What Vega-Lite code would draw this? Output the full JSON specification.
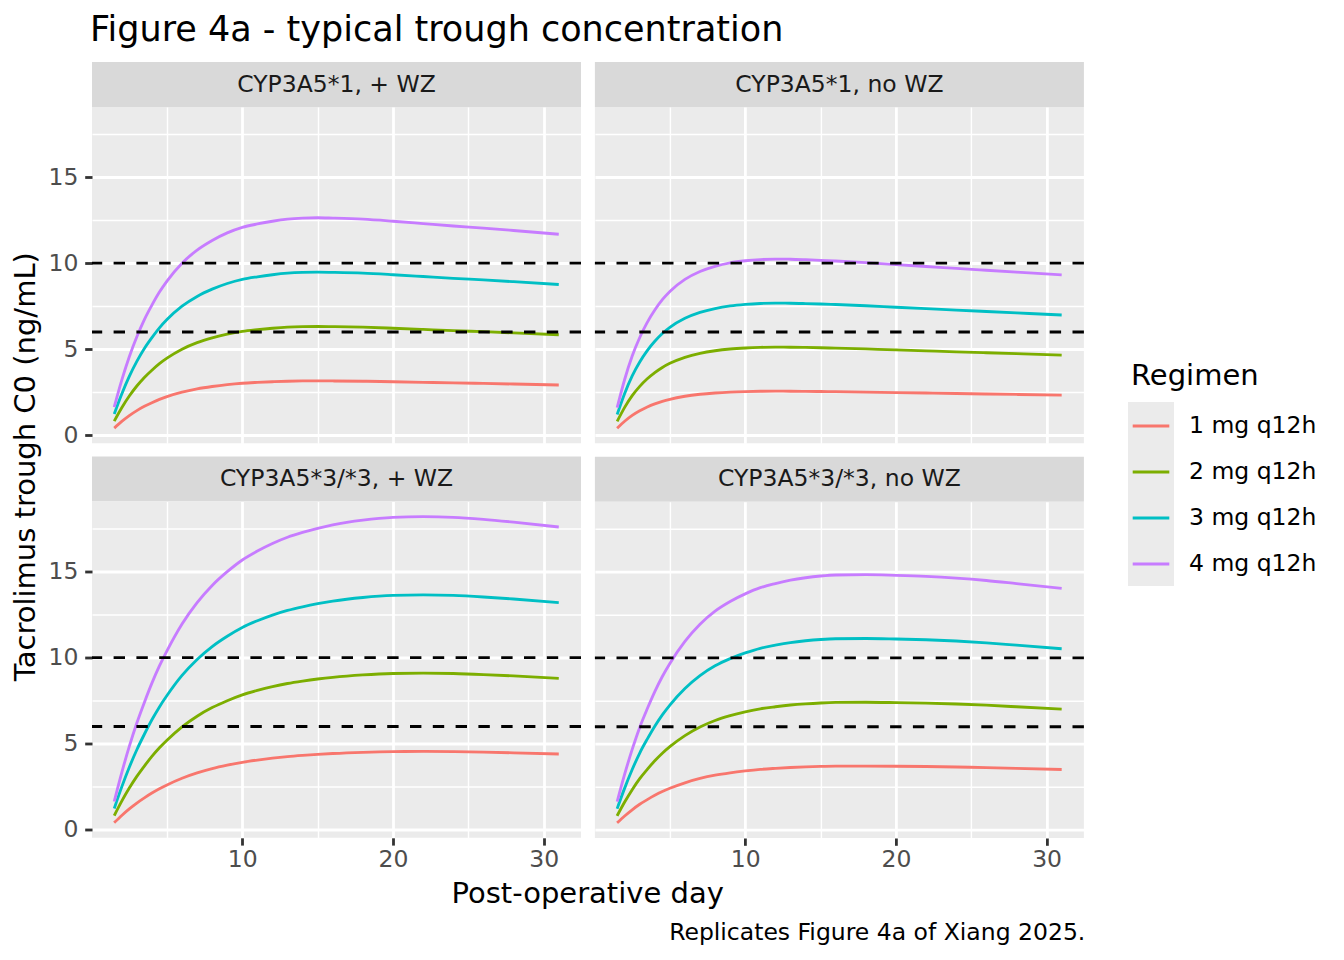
{
"$schema": "https://vega.github.io/schema/vega-lite/v6.json",
"background": "white",
"padding": {"left": 11, "top": 13, "right": 10, "bottom": 10},
"title": {"text": "Figure 4a - typical trough concentration", "anchor": "start", "fontSize": 35, "font": "DejaVu Sans", "fontWeight": "normal", "color": "black", "dx": 78, "offset": 14},
"config": {"font": "DejaVu Sans", "view": {"stroke": null}, "legend": {"padding": 0}, "title": {"font": "DejaVu Sans", "fontWeight": "normal", "color": "black"}},
"datasets": {
"refs": [{"yint": 6}, {"yint": 10}],
"tl": [
{"regimen":"1 mg q12h","day":1.5,"conc":0.41},{"regimen":"1 mg q12h","day":2,"conc":0.8},{"regimen":"1 mg q12h","day":2.5,"conc":1.14},{"regimen":"1 mg q12h","day":3,"conc":1.43},{"regimen":"1 mg q12h","day":3.5,"conc":1.68},{"regimen":"1 mg q12h","day":4,"conc":1.89},{"regimen":"1 mg q12h","day":4.5,"conc":2.08},{"regimen":"1 mg q12h","day":5,"conc":2.24},{"regimen":"1 mg q12h","day":6,"conc":2.5},{"regimen":"1 mg q12h","day":7,"conc":2.69},{"regimen":"1 mg q12h","day":8,"conc":2.83},{"regimen":"1 mg q12h","day":9,"conc":2.94},{"regimen":"1 mg q12h","day":10,"conc":3.02},{"regimen":"1 mg q12h","day":11,"conc":3.07},{"regimen":"1 mg q12h","day":12,"conc":3.11},{"regimen":"1 mg q12h","day":13,"conc":3.14},{"regimen":"1 mg q12h","day":14,"conc":3.155},{"regimen":"1 mg q12h","day":15,"conc":3.16},{"regimen":"1 mg q12h","day":16,"conc":3.155},{"regimen":"1 mg q12h","day":18,"conc":3.14},{"regimen":"1 mg q12h","day":20,"conc":3.11},{"regimen":"1 mg q12h","day":22,"conc":3.075},{"regimen":"1 mg q12h","day":24,"conc":3.04},{"regimen":"1 mg q12h","day":26,"conc":3.01},{"regimen":"1 mg q12h","day":28,"conc":2.975},{"regimen":"1 mg q12h","day":31,"conc":2.92},
{"regimen":"2 mg q12h","day":1.5,"conc":0.82},{"regimen":"2 mg q12h","day":2,"conc":1.6},{"regimen":"2 mg q12h","day":2.5,"conc":2.28},{"regimen":"2 mg q12h","day":3,"conc":2.86},{"regimen":"2 mg q12h","day":3.5,"conc":3.36},{"regimen":"2 mg q12h","day":4,"conc":3.78},{"regimen":"2 mg q12h","day":4.5,"conc":4.16},{"regimen":"2 mg q12h","day":5,"conc":4.48},{"regimen":"2 mg q12h","day":6,"conc":5.0},{"regimen":"2 mg q12h","day":7,"conc":5.38},{"regimen":"2 mg q12h","day":8,"conc":5.66},{"regimen":"2 mg q12h","day":9,"conc":5.88},{"regimen":"2 mg q12h","day":10,"conc":6.04},{"regimen":"2 mg q12h","day":11,"conc":6.14},{"regimen":"2 mg q12h","day":12,"conc":6.22},{"regimen":"2 mg q12h","day":13,"conc":6.28},{"regimen":"2 mg q12h","day":14,"conc":6.31},{"regimen":"2 mg q12h","day":15,"conc":6.32},{"regimen":"2 mg q12h","day":16,"conc":6.31},{"regimen":"2 mg q12h","day":18,"conc":6.28},{"regimen":"2 mg q12h","day":20,"conc":6.22},{"regimen":"2 mg q12h","day":22,"conc":6.15},{"regimen":"2 mg q12h","day":24,"conc":6.08},{"regimen":"2 mg q12h","day":26,"conc":6.02},{"regimen":"2 mg q12h","day":28,"conc":5.95},{"regimen":"2 mg q12h","day":31,"conc":5.84},
{"regimen":"3 mg q12h","day":1.5,"conc":1.23},{"regimen":"3 mg q12h","day":2,"conc":2.4},{"regimen":"3 mg q12h","day":2.5,"conc":3.42},{"regimen":"3 mg q12h","day":3,"conc":4.29},{"regimen":"3 mg q12h","day":3.5,"conc":5.04},{"regimen":"3 mg q12h","day":4,"conc":5.67},{"regimen":"3 mg q12h","day":4.5,"conc":6.24},{"regimen":"3 mg q12h","day":5,"conc":6.72},{"regimen":"3 mg q12h","day":6,"conc":7.5},{"regimen":"3 mg q12h","day":7,"conc":8.07},{"regimen":"3 mg q12h","day":8,"conc":8.49},{"regimen":"3 mg q12h","day":9,"conc":8.82},{"regimen":"3 mg q12h","day":10,"conc":9.06},{"regimen":"3 mg q12h","day":11,"conc":9.21},{"regimen":"3 mg q12h","day":12,"conc":9.33},{"regimen":"3 mg q12h","day":13,"conc":9.42},{"regimen":"3 mg q12h","day":14,"conc":9.465},{"regimen":"3 mg q12h","day":15,"conc":9.48},{"regimen":"3 mg q12h","day":16,"conc":9.465},{"regimen":"3 mg q12h","day":18,"conc":9.42},{"regimen":"3 mg q12h","day":20,"conc":9.33},{"regimen":"3 mg q12h","day":22,"conc":9.225},{"regimen":"3 mg q12h","day":24,"conc":9.12},{"regimen":"3 mg q12h","day":26,"conc":9.03},{"regimen":"3 mg q12h","day":28,"conc":8.925},{"regimen":"3 mg q12h","day":31,"conc":8.76},
{"regimen":"4 mg q12h","day":1.5,"conc":1.64},{"regimen":"4 mg q12h","day":2,"conc":3.2},{"regimen":"4 mg q12h","day":2.5,"conc":4.56},{"regimen":"4 mg q12h","day":3,"conc":5.72},{"regimen":"4 mg q12h","day":3.5,"conc":6.72},{"regimen":"4 mg q12h","day":4,"conc":7.56},{"regimen":"4 mg q12h","day":4.5,"conc":8.32},{"regimen":"4 mg q12h","day":5,"conc":8.96},{"regimen":"4 mg q12h","day":6,"conc":10.0},{"regimen":"4 mg q12h","day":7,"conc":10.76},{"regimen":"4 mg q12h","day":8,"conc":11.32},{"regimen":"4 mg q12h","day":9,"conc":11.76},{"regimen":"4 mg q12h","day":10,"conc":12.08},{"regimen":"4 mg q12h","day":11,"conc":12.28},{"regimen":"4 mg q12h","day":12,"conc":12.44},{"regimen":"4 mg q12h","day":13,"conc":12.56},{"regimen":"4 mg q12h","day":14,"conc":12.62},{"regimen":"4 mg q12h","day":15,"conc":12.64},{"regimen":"4 mg q12h","day":16,"conc":12.62},{"regimen":"4 mg q12h","day":18,"conc":12.56},{"regimen":"4 mg q12h","day":20,"conc":12.44},{"regimen":"4 mg q12h","day":22,"conc":12.3},{"regimen":"4 mg q12h","day":24,"conc":12.16},{"regimen":"4 mg q12h","day":26,"conc":12.04},{"regimen":"4 mg q12h","day":28,"conc":11.9},{"regimen":"4 mg q12h","day":31,"conc":11.68}
],
"tr": [
{"regimen":"1 mg q12h","day":1.5,"conc":0.4},{"regimen":"1 mg q12h","day":2,"conc":0.81},{"regimen":"1 mg q12h","day":2.5,"conc":1.15},{"regimen":"1 mg q12h","day":3,"conc":1.42},{"regimen":"1 mg q12h","day":3.5,"conc":1.64},{"regimen":"1 mg q12h","day":4,"conc":1.82},{"regimen":"1 mg q12h","day":4.5,"conc":1.97},{"regimen":"1 mg q12h","day":5,"conc":2.09},{"regimen":"1 mg q12h","day":6,"conc":2.265},{"regimen":"1 mg q12h","day":7,"conc":2.38},{"regimen":"1 mg q12h","day":8,"conc":2.455},{"regimen":"1 mg q12h","day":9,"conc":2.505},{"regimen":"1 mg q12h","day":10,"conc":2.535},{"regimen":"1 mg q12h","day":11,"conc":2.553},{"regimen":"1 mg q12h","day":12,"conc":2.56},{"regimen":"1 mg q12h","day":13,"conc":2.558},{"regimen":"1 mg q12h","day":14,"conc":2.551},{"regimen":"1 mg q12h","day":15,"conc":2.542},{"regimen":"1 mg q12h","day":16,"conc":2.532},{"regimen":"1 mg q12h","day":18,"conc":2.508},{"regimen":"1 mg q12h","day":20,"conc":2.48},{"regimen":"1 mg q12h","day":22,"conc":2.452},{"regimen":"1 mg q12h","day":24,"conc":2.424},{"regimen":"1 mg q12h","day":26,"conc":2.397},{"regimen":"1 mg q12h","day":28,"conc":2.37},{"regimen":"1 mg q12h","day":31,"conc":2.33},
{"regimen":"2 mg q12h","day":1.5,"conc":0.8},{"regimen":"2 mg q12h","day":2,"conc":1.62},{"regimen":"2 mg q12h","day":2.5,"conc":2.3},{"regimen":"2 mg q12h","day":3,"conc":2.84},{"regimen":"2 mg q12h","day":3.5,"conc":3.28},{"regimen":"2 mg q12h","day":4,"conc":3.64},{"regimen":"2 mg q12h","day":4.5,"conc":3.94},{"regimen":"2 mg q12h","day":5,"conc":4.18},{"regimen":"2 mg q12h","day":6,"conc":4.53},{"regimen":"2 mg q12h","day":7,"conc":4.76},{"regimen":"2 mg q12h","day":8,"conc":4.91},{"regimen":"2 mg q12h","day":9,"conc":5.01},{"regimen":"2 mg q12h","day":10,"conc":5.07},{"regimen":"2 mg q12h","day":11,"conc":5.106},{"regimen":"2 mg q12h","day":12,"conc":5.12},{"regimen":"2 mg q12h","day":13,"conc":5.116},{"regimen":"2 mg q12h","day":14,"conc":5.102},{"regimen":"2 mg q12h","day":15,"conc":5.084},{"regimen":"2 mg q12h","day":16,"conc":5.064},{"regimen":"2 mg q12h","day":18,"conc":5.016},{"regimen":"2 mg q12h","day":20,"conc":4.96},{"regimen":"2 mg q12h","day":22,"conc":4.904},{"regimen":"2 mg q12h","day":24,"conc":4.848},{"regimen":"2 mg q12h","day":26,"conc":4.794},{"regimen":"2 mg q12h","day":28,"conc":4.74},{"regimen":"2 mg q12h","day":31,"conc":4.66},
{"regimen":"3 mg q12h","day":1.5,"conc":1.2},{"regimen":"3 mg q12h","day":2,"conc":2.43},{"regimen":"3 mg q12h","day":2.5,"conc":3.45},{"regimen":"3 mg q12h","day":3,"conc":4.26},{"regimen":"3 mg q12h","day":3.5,"conc":4.92},{"regimen":"3 mg q12h","day":4,"conc":5.46},{"regimen":"3 mg q12h","day":4.5,"conc":5.91},{"regimen":"3 mg q12h","day":5,"conc":6.27},{"regimen":"3 mg q12h","day":6,"conc":6.795},{"regimen":"3 mg q12h","day":7,"conc":7.14},{"regimen":"3 mg q12h","day":8,"conc":7.365},{"regimen":"3 mg q12h","day":9,"conc":7.515},{"regimen":"3 mg q12h","day":10,"conc":7.605},{"regimen":"3 mg q12h","day":11,"conc":7.659},{"regimen":"3 mg q12h","day":12,"conc":7.68},{"regimen":"3 mg q12h","day":13,"conc":7.674},{"regimen":"3 mg q12h","day":14,"conc":7.653},{"regimen":"3 mg q12h","day":15,"conc":7.626},{"regimen":"3 mg q12h","day":16,"conc":7.596},{"regimen":"3 mg q12h","day":18,"conc":7.524},{"regimen":"3 mg q12h","day":20,"conc":7.44},{"regimen":"3 mg q12h","day":22,"conc":7.356},{"regimen":"3 mg q12h","day":24,"conc":7.272},{"regimen":"3 mg q12h","day":26,"conc":7.191},{"regimen":"3 mg q12h","day":28,"conc":7.11},{"regimen":"3 mg q12h","day":31,"conc":6.99},
{"regimen":"4 mg q12h","day":1.5,"conc":1.6},{"regimen":"4 mg q12h","day":2,"conc":3.24},{"regimen":"4 mg q12h","day":2.5,"conc":4.6},{"regimen":"4 mg q12h","day":3,"conc":5.68},{"regimen":"4 mg q12h","day":3.5,"conc":6.56},{"regimen":"4 mg q12h","day":4,"conc":7.28},{"regimen":"4 mg q12h","day":4.5,"conc":7.88},{"regimen":"4 mg q12h","day":5,"conc":8.36},{"regimen":"4 mg q12h","day":6,"conc":9.06},{"regimen":"4 mg q12h","day":7,"conc":9.52},{"regimen":"4 mg q12h","day":8,"conc":9.82},{"regimen":"4 mg q12h","day":9,"conc":10.02},{"regimen":"4 mg q12h","day":10,"conc":10.14},{"regimen":"4 mg q12h","day":11,"conc":10.212},{"regimen":"4 mg q12h","day":12,"conc":10.24},{"regimen":"4 mg q12h","day":13,"conc":10.232},{"regimen":"4 mg q12h","day":14,"conc":10.204},{"regimen":"4 mg q12h","day":15,"conc":10.168},{"regimen":"4 mg q12h","day":16,"conc":10.128},{"regimen":"4 mg q12h","day":18,"conc":10.032},{"regimen":"4 mg q12h","day":20,"conc":9.92},{"regimen":"4 mg q12h","day":22,"conc":9.808},{"regimen":"4 mg q12h","day":24,"conc":9.696},{"regimen":"4 mg q12h","day":26,"conc":9.588},{"regimen":"4 mg q12h","day":28,"conc":9.48},{"regimen":"4 mg q12h","day":31,"conc":9.32}
],
"bl": [
{"regimen":"1 mg q12h","day":1.5,"conc":0.41},{"regimen":"1 mg q12h","day":2,"conc":0.83},{"regimen":"1 mg q12h","day":2.5,"conc":1.21},{"regimen":"1 mg q12h","day":3,"conc":1.55},{"regimen":"1 mg q12h","day":3.5,"conc":1.85},{"regimen":"1 mg q12h","day":4,"conc":2.13},{"regimen":"1 mg q12h","day":4.5,"conc":2.38},{"regimen":"1 mg q12h","day":5,"conc":2.6},{"regimen":"1 mg q12h","day":6,"conc":2.99},{"regimen":"1 mg q12h","day":7,"conc":3.3},{"regimen":"1 mg q12h","day":8,"conc":3.55},{"regimen":"1 mg q12h","day":9,"conc":3.75},{"regimen":"1 mg q12h","day":10,"conc":3.92},{"regimen":"1 mg q12h","day":11,"conc":4.05},{"regimen":"1 mg q12h","day":12,"conc":4.16},{"regimen":"1 mg q12h","day":13,"conc":4.25},{"regimen":"1 mg q12h","day":14,"conc":4.32},{"regimen":"1 mg q12h","day":15,"conc":4.38},{"regimen":"1 mg q12h","day":16,"conc":4.43},{"regimen":"1 mg q12h","day":18,"conc":4.5},{"regimen":"1 mg q12h","day":20,"conc":4.54},{"regimen":"1 mg q12h","day":22,"conc":4.55},{"regimen":"1 mg q12h","day":24,"conc":4.54},{"regimen":"1 mg q12h","day":26,"conc":4.51},{"regimen":"1 mg q12h","day":28,"conc":4.47},{"regimen":"1 mg q12h","day":31,"conc":4.4},
{"regimen":"2 mg q12h","day":1.5,"conc":0.82},{"regimen":"2 mg q12h","day":2,"conc":1.66},{"regimen":"2 mg q12h","day":2.5,"conc":2.42},{"regimen":"2 mg q12h","day":3,"conc":3.1},{"regimen":"2 mg q12h","day":3.5,"conc":3.7},{"regimen":"2 mg q12h","day":4,"conc":4.26},{"regimen":"2 mg q12h","day":4.5,"conc":4.76},{"regimen":"2 mg q12h","day":5,"conc":5.2},{"regimen":"2 mg q12h","day":6,"conc":5.98},{"regimen":"2 mg q12h","day":7,"conc":6.6},{"regimen":"2 mg q12h","day":8,"conc":7.1},{"regimen":"2 mg q12h","day":9,"conc":7.5},{"regimen":"2 mg q12h","day":10,"conc":7.84},{"regimen":"2 mg q12h","day":11,"conc":8.1},{"regimen":"2 mg q12h","day":12,"conc":8.32},{"regimen":"2 mg q12h","day":13,"conc":8.5},{"regimen":"2 mg q12h","day":14,"conc":8.64},{"regimen":"2 mg q12h","day":15,"conc":8.76},{"regimen":"2 mg q12h","day":16,"conc":8.86},{"regimen":"2 mg q12h","day":18,"conc":9.0},{"regimen":"2 mg q12h","day":20,"conc":9.08},{"regimen":"2 mg q12h","day":22,"conc":9.1},{"regimen":"2 mg q12h","day":24,"conc":9.08},{"regimen":"2 mg q12h","day":26,"conc":9.02},{"regimen":"2 mg q12h","day":28,"conc":8.94},{"regimen":"2 mg q12h","day":31,"conc":8.8},
{"regimen":"3 mg q12h","day":1.5,"conc":1.23},{"regimen":"3 mg q12h","day":2,"conc":2.49},{"regimen":"3 mg q12h","day":2.5,"conc":3.63},{"regimen":"3 mg q12h","day":3,"conc":4.65},{"regimen":"3 mg q12h","day":3.5,"conc":5.55},{"regimen":"3 mg q12h","day":4,"conc":6.39},{"regimen":"3 mg q12h","day":4.5,"conc":7.14},{"regimen":"3 mg q12h","day":5,"conc":7.8},{"regimen":"3 mg q12h","day":6,"conc":8.97},{"regimen":"3 mg q12h","day":7,"conc":9.9},{"regimen":"3 mg q12h","day":8,"conc":10.65},{"regimen":"3 mg q12h","day":9,"conc":11.25},{"regimen":"3 mg q12h","day":10,"conc":11.76},{"regimen":"3 mg q12h","day":11,"conc":12.15},{"regimen":"3 mg q12h","day":12,"conc":12.48},{"regimen":"3 mg q12h","day":13,"conc":12.75},{"regimen":"3 mg q12h","day":14,"conc":12.96},{"regimen":"3 mg q12h","day":15,"conc":13.14},{"regimen":"3 mg q12h","day":16,"conc":13.29},{"regimen":"3 mg q12h","day":18,"conc":13.5},{"regimen":"3 mg q12h","day":20,"conc":13.62},{"regimen":"3 mg q12h","day":22,"conc":13.65},{"regimen":"3 mg q12h","day":24,"conc":13.62},{"regimen":"3 mg q12h","day":26,"conc":13.53},{"regimen":"3 mg q12h","day":28,"conc":13.41},{"regimen":"3 mg q12h","day":31,"conc":13.2},
{"regimen":"4 mg q12h","day":1.5,"conc":1.64},{"regimen":"4 mg q12h","day":2,"conc":3.32},{"regimen":"4 mg q12h","day":2.5,"conc":4.84},{"regimen":"4 mg q12h","day":3,"conc":6.2},{"regimen":"4 mg q12h","day":3.5,"conc":7.4},{"regimen":"4 mg q12h","day":4,"conc":8.52},{"regimen":"4 mg q12h","day":4.5,"conc":9.52},{"regimen":"4 mg q12h","day":5,"conc":10.4},{"regimen":"4 mg q12h","day":6,"conc":11.96},{"regimen":"4 mg q12h","day":7,"conc":13.2},{"regimen":"4 mg q12h","day":8,"conc":14.2},{"regimen":"4 mg q12h","day":9,"conc":15.0},{"regimen":"4 mg q12h","day":10,"conc":15.68},{"regimen":"4 mg q12h","day":11,"conc":16.2},{"regimen":"4 mg q12h","day":12,"conc":16.64},{"regimen":"4 mg q12h","day":13,"conc":17.0},{"regimen":"4 mg q12h","day":14,"conc":17.28},{"regimen":"4 mg q12h","day":15,"conc":17.52},{"regimen":"4 mg q12h","day":16,"conc":17.72},{"regimen":"4 mg q12h","day":18,"conc":18.0},{"regimen":"4 mg q12h","day":20,"conc":18.16},{"regimen":"4 mg q12h","day":22,"conc":18.2},{"regimen":"4 mg q12h","day":24,"conc":18.16},{"regimen":"4 mg q12h","day":26,"conc":18.04},{"regimen":"4 mg q12h","day":28,"conc":17.88},{"regimen":"4 mg q12h","day":31,"conc":17.6}
],
"br": [
{"regimen":"1 mg q12h","day":1.5,"conc":0.41},{"regimen":"1 mg q12h","day":2,"conc":0.81},{"regimen":"1 mg q12h","day":2.5,"conc":1.17},{"regimen":"1 mg q12h","day":3,"conc":1.49},{"regimen":"1 mg q12h","day":3.5,"conc":1.76},{"regimen":"1 mg q12h","day":4,"conc":2.01},{"regimen":"1 mg q12h","day":4.5,"conc":2.23},{"regimen":"1 mg q12h","day":5,"conc":2.42},{"regimen":"1 mg q12h","day":6,"conc":2.74},{"regimen":"1 mg q12h","day":7,"conc":2.99},{"regimen":"1 mg q12h","day":8,"conc":3.18},{"regimen":"1 mg q12h","day":9,"conc":3.32},{"regimen":"1 mg q12h","day":10,"conc":3.43},{"regimen":"1 mg q12h","day":11,"conc":3.52},{"regimen":"1 mg q12h","day":12,"conc":3.58},{"regimen":"1 mg q12h","day":13,"conc":3.63},{"regimen":"1 mg q12h","day":14,"conc":3.665},{"regimen":"1 mg q12h","day":15,"conc":3.69},{"regimen":"1 mg q12h","day":16,"conc":3.705},{"regimen":"1 mg q12h","day":18,"conc":3.71},{"regimen":"1 mg q12h","day":20,"conc":3.7},{"regimen":"1 mg q12h","day":22,"conc":3.685},{"regimen":"1 mg q12h","day":24,"conc":3.66},{"regimen":"1 mg q12h","day":26,"conc":3.625},{"regimen":"1 mg q12h","day":28,"conc":3.58},{"regimen":"1 mg q12h","day":31,"conc":3.51},
{"regimen":"2 mg q12h","day":1.5,"conc":0.82},{"regimen":"2 mg q12h","day":2,"conc":1.62},{"regimen":"2 mg q12h","day":2.5,"conc":2.34},{"regimen":"2 mg q12h","day":3,"conc":2.98},{"regimen":"2 mg q12h","day":3.5,"conc":3.52},{"regimen":"2 mg q12h","day":4,"conc":4.02},{"regimen":"2 mg q12h","day":4.5,"conc":4.46},{"regimen":"2 mg q12h","day":5,"conc":4.84},{"regimen":"2 mg q12h","day":6,"conc":5.48},{"regimen":"2 mg q12h","day":7,"conc":5.98},{"regimen":"2 mg q12h","day":8,"conc":6.36},{"regimen":"2 mg q12h","day":9,"conc":6.64},{"regimen":"2 mg q12h","day":10,"conc":6.86},{"regimen":"2 mg q12h","day":11,"conc":7.04},{"regimen":"2 mg q12h","day":12,"conc":7.16},{"regimen":"2 mg q12h","day":13,"conc":7.26},{"regimen":"2 mg q12h","day":14,"conc":7.33},{"regimen":"2 mg q12h","day":15,"conc":7.38},{"regimen":"2 mg q12h","day":16,"conc":7.41},{"regimen":"2 mg q12h","day":18,"conc":7.42},{"regimen":"2 mg q12h","day":20,"conc":7.4},{"regimen":"2 mg q12h","day":22,"conc":7.37},{"regimen":"2 mg q12h","day":24,"conc":7.32},{"regimen":"2 mg q12h","day":26,"conc":7.25},{"regimen":"2 mg q12h","day":28,"conc":7.16},{"regimen":"2 mg q12h","day":31,"conc":7.02},
{"regimen":"3 mg q12h","day":1.5,"conc":1.23},{"regimen":"3 mg q12h","day":2,"conc":2.43},{"regimen":"3 mg q12h","day":2.5,"conc":3.51},{"regimen":"3 mg q12h","day":3,"conc":4.47},{"regimen":"3 mg q12h","day":3.5,"conc":5.28},{"regimen":"3 mg q12h","day":4,"conc":6.03},{"regimen":"3 mg q12h","day":4.5,"conc":6.69},{"regimen":"3 mg q12h","day":5,"conc":7.26},{"regimen":"3 mg q12h","day":6,"conc":8.22},{"regimen":"3 mg q12h","day":7,"conc":8.97},{"regimen":"3 mg q12h","day":8,"conc":9.54},{"regimen":"3 mg q12h","day":9,"conc":9.96},{"regimen":"3 mg q12h","day":10,"conc":10.29},{"regimen":"3 mg q12h","day":11,"conc":10.56},{"regimen":"3 mg q12h","day":12,"conc":10.74},{"regimen":"3 mg q12h","day":13,"conc":10.89},{"regimen":"3 mg q12h","day":14,"conc":10.995},{"regimen":"3 mg q12h","day":15,"conc":11.07},{"regimen":"3 mg q12h","day":16,"conc":11.115},{"regimen":"3 mg q12h","day":18,"conc":11.13},{"regimen":"3 mg q12h","day":20,"conc":11.1},{"regimen":"3 mg q12h","day":22,"conc":11.055},{"regimen":"3 mg q12h","day":24,"conc":10.98},{"regimen":"3 mg q12h","day":26,"conc":10.875},{"regimen":"3 mg q12h","day":28,"conc":10.74},{"regimen":"3 mg q12h","day":31,"conc":10.53},
{"regimen":"4 mg q12h","day":1.5,"conc":1.64},{"regimen":"4 mg q12h","day":2,"conc":3.24},{"regimen":"4 mg q12h","day":2.5,"conc":4.68},{"regimen":"4 mg q12h","day":3,"conc":5.96},{"regimen":"4 mg q12h","day":3.5,"conc":7.04},{"regimen":"4 mg q12h","day":4,"conc":8.04},{"regimen":"4 mg q12h","day":4.5,"conc":8.92},{"regimen":"4 mg q12h","day":5,"conc":9.68},{"regimen":"4 mg q12h","day":6,"conc":10.96},{"regimen":"4 mg q12h","day":7,"conc":11.96},{"regimen":"4 mg q12h","day":8,"conc":12.72},{"regimen":"4 mg q12h","day":9,"conc":13.28},{"regimen":"4 mg q12h","day":10,"conc":13.72},{"regimen":"4 mg q12h","day":11,"conc":14.08},{"regimen":"4 mg q12h","day":12,"conc":14.32},{"regimen":"4 mg q12h","day":13,"conc":14.52},{"regimen":"4 mg q12h","day":14,"conc":14.66},{"regimen":"4 mg q12h","day":15,"conc":14.76},{"regimen":"4 mg q12h","day":16,"conc":14.82},{"regimen":"4 mg q12h","day":18,"conc":14.84},{"regimen":"4 mg q12h","day":20,"conc":14.8},{"regimen":"4 mg q12h","day":22,"conc":14.74},{"regimen":"4 mg q12h","day":24,"conc":14.64},{"regimen":"4 mg q12h","day":26,"conc":14.5},{"regimen":"4 mg q12h","day":28,"conc":14.32},{"regimen":"4 mg q12h","day":31,"conc":14.04}
]
},
"resolve": {"scale": {"color": "shared", "fill": "shared"}, "legend": {"color": "shared", "fill": "shared"}},
"vconcat": [{
 "title": {"text": "Replicates Figure 4a of Xiang 2025.", "orient": "bottom", "anchor": "end", "fontSize": 23.5, "offset": 12},
 "resolve": {"scale": {"color": "shared", "fill": "shared"}, "legend": {"color": "shared", "fill": "shared"}},
 "vconcat": [{
  "title": {"text": "Post-operative day", "orient": "bottom", "anchor": "middle", "fontSize": 29, "offset": 9, "dx": 39},
  "resolve": {"scale": {"color": "shared", "fill": "shared"}, "legend": {"color": "shared", "fill": "shared"}},
  "vconcat": [{
   "title": {"text": "Tacrolimus trough C0 (ng/mL)", "orient": "left", "anchor": "middle", "fontSize": 29, "offset": 7},
   "resolve": {"scale": {"color": "shared", "fill": "shared"}, "legend": {"color": "shared", "fill": "shared"}},
   "spacing": 9.9,
   "hconcat": [
    {"spacing": 9.5,
     "resolve": {"scale": {"color": "shared", "fill": "shared"}, "legend": {"color": "shared", "fill": "shared"}},
     "vconcat": [
      {"spacing": 0, "bounds": "flush",
       "resolve": {"scale": {"color": "shared", "fill": "shared"}, "legend": {"color": "shared", "fill": "shared"}},
       "vconcat": [
        {"width": 489, "height": 45, "view": {"fill": "#D9D9D9", "stroke": null}, "data": {"values": [{"panel": "CYP3A5*1, + WZ"}]}, "mark": {"type": "text", "fontSize": 23.5, "color": "#1A1A1A", "font": "DejaVu Sans", "baseline": "middle"}, "encoding": {"text": {"field": "panel"}}},
        {"width": 489, "height": 336.3, "view": {"fill": "#EBEBEB", "stroke": null},
         "layer": [
          {"data": {"name": "tl"}, "mark": {"type": "line", "strokeWidth": 2.85, "interpolate": "monotone"},
           "encoding": {
            "x": {"field": "day", "type": "quantitative", "scale": {"domain": [0.025, 32.475], "nice": false, "zero": false}, "axis": {"values": [5,10,15,20,25,30], "labels": false, "ticks": false, "domain": false, "title": null, "grid": true, "gridColor": "white", "gridWidth": {"condition": {"test": "datum.value % 10 !== 0", "value": 1.4}, "value": 2.8}}},
            "y": {"field": "conc", "type": "quantitative", "scale": {"domain": [-0.47, 19.08], "nice": false, "zero": false}, "axis": {"values": [0,2.5,5,7.5,10,12.5,15,17.5], "labelExpr": "datum.value % 5 === 0 ? datum.label : ''", "labelFontSize": 23.5, "labelColor": "#4D4D4D", "labelFont": "DejaVu Sans", "labelPadding": 6.8, "labelOverlap": false, "labelFlush": false, "ticks": true, "tickSize": 7.3, "tickWidth": 2.8, "tickColor": "#333333", "tickOpacity": {"condition": {"test": "datum.value % 5 !== 0", "value": 0}, "value": 1}, "domain": false, "title": null, "grid": true, "gridColor": "white", "gridWidth": {"condition": {"test": "datum.value % 5 !== 0", "value": 1.4}, "value": 2.8}}},
            "color": {"field": "regimen", "type": "nominal", "scale": {"domain": ["1 mg q12h","2 mg q12h","3 mg q12h","4 mg q12h"], "range": ["#F8766D","#7CAE00","#00BFC4","#C77CFF"]}, "legend": {"title": "Regimen", "orient": "none", "legendX": 1039, "legendY": 300, "titleFontSize": 29, "titleFont": "DejaVu Sans", "titleFontWeight": "normal", "titleColor": "black", "titlePadding": 15, "labelFontSize": 23.5, "labelFont": "DejaVu Sans", "labelColor": "black", "labelOffset": 18, "symbolType": "stroke", "symbolSize": 1340, "symbolStrokeWidth": 2.85, "rowPadding": 14, "zindex": 2}}
           }},
          {"data": {"name": "tl"}, "mark": {"type": "square", "opacity": 0, "size": 4},
           "encoding": {
            "x": {"field": "day", "type": "quantitative"},
            "y": {"field": "conc", "type": "quantitative"},
            "fill": {"field": "regimen", "type": "nominal", "scale": {"range": ["#EBEBEB","#EBEBEB","#EBEBEB","#EBEBEB"]}, "legend": {"title": null, "orient": "none", "legendX": 1036, "legendY": 340, "labelExpr": "''", "labelFontSize": 23.5, "symbolType": "square", "symbolSize": 2116, "symbolStrokeWidth": 0, "symbolOpacity": 1, "rowPadding": 0, "zindex": 0}}
           }},
          {"data": {"name": "refs"}, "mark": {"type": "rule", "strokeDash": [11.4, 11.4], "strokeWidth": 2.85, "color": "black"}, "encoding": {"y": {"field": "yint", "type": "quantitative"}}}
         ]}
       ]},
      {"spacing": 0, "bounds": "flush",
       "resolve": {"scale": {"color": "shared", "fill": "shared"}, "legend": {"color": "shared", "fill": "shared"}},
       "vconcat": [
        {"width": 489, "height": 45, "view": {"fill": "#D9D9D9", "stroke": null}, "data": {"values": [{"panel": "CYP3A5*3/*3, + WZ"}]}, "mark": {"type": "text", "fontSize": 23.5, "color": "#1A1A1A", "font": "DejaVu Sans", "baseline": "middle"}, "encoding": {"text": {"field": "panel"}}},
        {"width": 489, "height": 336.3, "view": {"fill": "#EBEBEB", "stroke": null},
         "layer": [
          {"data": {"name": "bl"}, "mark": {"type": "line", "strokeWidth": 2.85, "interpolate": "monotone"},
           "encoding": {
            "x": {"field": "day", "type": "quantitative", "scale": {"domain": [0.025, 32.475], "nice": false, "zero": false}, "axis": {"values": [5,10,15,20,25,30], "labelExpr": "datum.value % 10 === 0 ? datum.label : ''", "labelFontSize": 23.5, "labelColor": "#4D4D4D", "labelFont": "DejaVu Sans", "labelPadding": 2.5, "labelOverlap": false, "labelFlush": false, "ticks": true, "tickSize": 7.3, "tickWidth": 2.8, "tickColor": "#333333", "tickOpacity": {"condition": {"test": "datum.value % 10 !== 0", "value": 0}, "value": 1}, "domain": false, "title": null, "grid": true, "gridColor": "white", "gridWidth": {"condition": {"test": "datum.value % 10 !== 0", "value": 1.4}, "value": 2.8}}},
            "y": {"field": "conc", "type": "quantitative", "scale": {"domain": [-0.47, 19.08], "nice": false, "zero": false}, "axis": {"values": [0,2.5,5,7.5,10,12.5,15,17.5], "labelExpr": "datum.value % 5 === 0 ? datum.label : ''", "labelFontSize": 23.5, "labelColor": "#4D4D4D", "labelFont": "DejaVu Sans", "labelPadding": 6.8, "labelOverlap": false, "labelFlush": false, "ticks": true, "tickSize": 7.3, "tickWidth": 2.8, "tickColor": "#333333", "tickOpacity": {"condition": {"test": "datum.value % 5 !== 0", "value": 0}, "value": 1}, "domain": false, "title": null, "grid": true, "gridColor": "white", "gridWidth": {"condition": {"test": "datum.value % 5 !== 0", "value": 1.4}, "value": 2.8}}},
            "color": {"field": "regimen", "type": "nominal", "scale": {"domain": ["1 mg q12h","2 mg q12h","3 mg q12h","4 mg q12h"], "range": ["#F8766D","#7CAE00","#00BFC4","#C77CFF"]}, "legend": {"title": "Regimen", "orient": "none", "legendX": 1039, "legendY": 300, "titleFontSize": 29, "titleFont": "DejaVu Sans", "titleFontWeight": "normal", "titleColor": "black", "titlePadding": 15, "labelFontSize": 23.5, "labelFont": "DejaVu Sans", "labelColor": "black", "labelOffset": 18, "symbolType": "stroke", "symbolSize": 1340, "symbolStrokeWidth": 2.85, "rowPadding": 14, "zindex": 2}}
           }},
          {"data": {"name": "refs"}, "mark": {"type": "rule", "strokeDash": [11.4, 11.4], "strokeWidth": 2.85, "color": "black"}, "encoding": {"y": {"field": "yint", "type": "quantitative"}}}
         ]}
       ]}
     ]},
    {"spacing": 12.7,
     "resolve": {"scale": {"color": "shared", "fill": "shared"}, "legend": {"color": "shared", "fill": "shared"}},
     "vconcat": [
      {"spacing": 0, "bounds": "flush",
       "resolve": {"scale": {"color": "shared", "fill": "shared"}, "legend": {"color": "shared", "fill": "shared"}},
       "vconcat": [
        {"width": 489, "height": 45, "view": {"fill": "#D9D9D9", "stroke": null}, "data": {"values": [{"panel": "CYP3A5*1, no WZ"}]}, "mark": {"type": "text", "fontSize": 23.5, "color": "#1A1A1A", "font": "DejaVu Sans", "baseline": "middle"}, "encoding": {"text": {"field": "panel"}}},
        {"width": 489, "height": 336.3, "view": {"fill": "#EBEBEB", "stroke": null},
         "layer": [
          {"data": {"name": "tr"}, "mark": {"type": "line", "strokeWidth": 2.85, "interpolate": "monotone"},
           "encoding": {
            "x": {"field": "day", "type": "quantitative", "scale": {"domain": [0.025, 32.475], "nice": false, "zero": false}, "axis": {"values": [5,10,15,20,25,30], "labels": false, "ticks": false, "domain": false, "title": null, "grid": true, "gridColor": "white", "gridWidth": {"condition": {"test": "datum.value % 10 !== 0", "value": 1.4}, "value": 2.8}}},
            "y": {"field": "conc", "type": "quantitative", "scale": {"domain": [-0.47, 19.08], "nice": false, "zero": false}, "axis": {"values": [0,2.5,5,7.5,10,12.5,15,17.5], "labels": false, "ticks": false, "domain": false, "title": null, "grid": true, "gridColor": "white", "gridWidth": {"condition": {"test": "datum.value % 5 !== 0", "value": 1.4}, "value": 2.8}}},
            "color": {"field": "regimen", "type": "nominal", "scale": {"domain": ["1 mg q12h","2 mg q12h","3 mg q12h","4 mg q12h"], "range": ["#F8766D","#7CAE00","#00BFC4","#C77CFF"]}, "legend": {"title": "Regimen", "orient": "none", "legendX": 1039, "legendY": 300, "titleFontSize": 29, "titleFont": "DejaVu Sans", "titleFontWeight": "normal", "titleColor": "black", "titlePadding": 15, "labelFontSize": 23.5, "labelFont": "DejaVu Sans", "labelColor": "black", "labelOffset": 18, "symbolType": "stroke", "symbolSize": 1340, "symbolStrokeWidth": 2.85, "rowPadding": 14, "zindex": 2}}
           }},
          {"data": {"name": "refs"}, "mark": {"type": "rule", "strokeDash": [11.4, 11.4], "strokeWidth": 2.85, "color": "black"}, "encoding": {"y": {"field": "yint", "type": "quantitative"}}}
         ]}
       ]},
      {"spacing": 0, "bounds": "flush",
       "resolve": {"scale": {"color": "shared", "fill": "shared"}, "legend": {"color": "shared", "fill": "shared"}},
       "vconcat": [
        {"width": 489, "height": 45, "view": {"fill": "#D9D9D9", "stroke": null}, "data": {"values": [{"panel": "CYP3A5*3/*3, no WZ"}]}, "mark": {"type": "text", "fontSize": 23.5, "color": "#1A1A1A", "font": "DejaVu Sans", "baseline": "middle"}, "encoding": {"text": {"field": "panel"}}},
        {"width": 489, "height": 336.3, "view": {"fill": "#EBEBEB", "stroke": null},
         "layer": [
          {"data": {"name": "br"}, "mark": {"type": "line", "strokeWidth": 2.85, "interpolate": "monotone"},
           "encoding": {
            "x": {"field": "day", "type": "quantitative", "scale": {"domain": [0.025, 32.475], "nice": false, "zero": false}, "axis": {"values": [5,10,15,20,25,30], "labelExpr": "datum.value % 10 === 0 ? datum.label : ''", "labelFontSize": 23.5, "labelColor": "#4D4D4D", "labelFont": "DejaVu Sans", "labelPadding": 2.5, "labelOverlap": false, "labelFlush": false, "ticks": true, "tickSize": 7.3, "tickWidth": 2.8, "tickColor": "#333333", "tickOpacity": {"condition": {"test": "datum.value % 10 !== 0", "value": 0}, "value": 1}, "domain": false, "title": null, "grid": true, "gridColor": "white", "gridWidth": {"condition": {"test": "datum.value % 10 !== 0", "value": 1.4}, "value": 2.8}}},
            "y": {"field": "conc", "type": "quantitative", "scale": {"domain": [-0.47, 19.08], "nice": false, "zero": false}, "axis": {"values": [0,2.5,5,7.5,10,12.5,15,17.5], "labels": false, "ticks": false, "domain": false, "title": null, "grid": true, "gridColor": "white", "gridWidth": {"condition": {"test": "datum.value % 5 !== 0", "value": 1.4}, "value": 2.8}}},
            "color": {"field": "regimen", "type": "nominal", "scale": {"domain": ["1 mg q12h","2 mg q12h","3 mg q12h","4 mg q12h"], "range": ["#F8766D","#7CAE00","#00BFC4","#C77CFF"]}, "legend": {"title": "Regimen", "orient": "none", "legendX": 1039, "legendY": 300, "titleFontSize": 29, "titleFont": "DejaVu Sans", "titleFontWeight": "normal", "titleColor": "black", "titlePadding": 15, "labelFontSize": 23.5, "labelFont": "DejaVu Sans", "labelColor": "black", "labelOffset": 18, "symbolType": "stroke", "symbolSize": 1340, "symbolStrokeWidth": 2.85, "rowPadding": 14, "zindex": 2}}
           }},
          {"data": {"name": "refs"}, "mark": {"type": "rule", "strokeDash": [11.4, 11.4], "strokeWidth": 2.85, "color": "black"}, "encoding": {"y": {"field": "yint", "type": "quantitative"}}}
         ]}
       ]}
     ]}
   ]
  }]
 }]
}]
}
